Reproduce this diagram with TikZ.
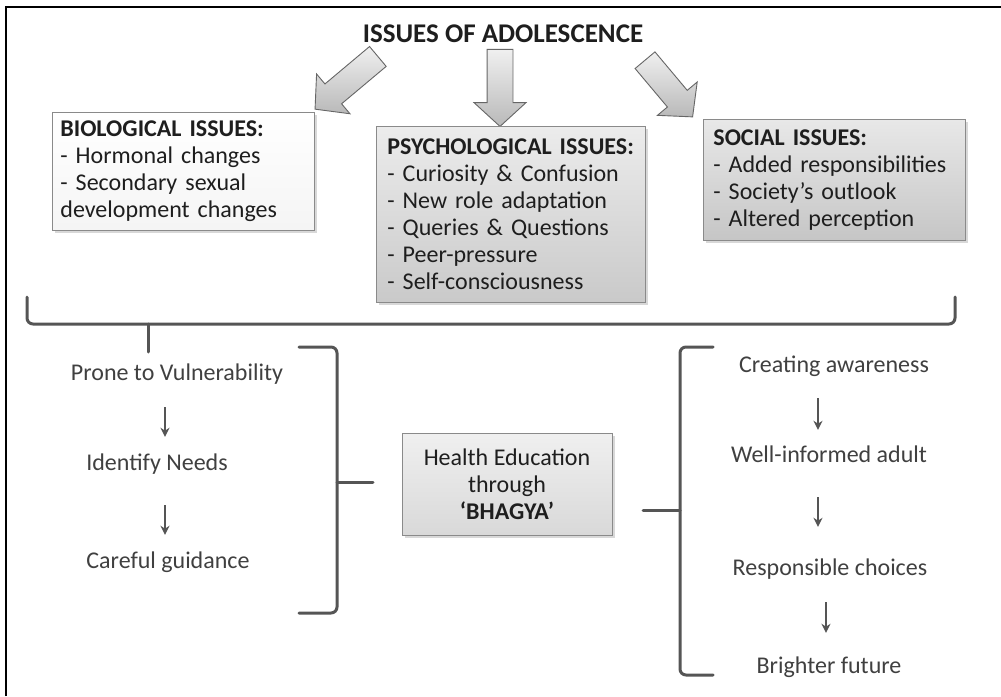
\documentclass[tikz,border=0pt]{standalone}
\usepackage{fontspec}
\setmainfont{Carlito}
\usetikzlibrary{shapes.arrows,shadows,arrows.meta,calc}
\definecolor{txt}{HTML}{1E1E1E}
\definecolor{brace}{HTML}{555555}
\definecolor{edge}{HTML}{8A8A8A}
\begin{document}
\begin{tikzpicture}[x=1pt,y=-1pt,
  every node/.style={text=txt},
  body/.style={font=\fontsize{24}{27}\selectfont},
  boxbase/.style={draw=edge, line width=0.8pt, anchor=north west, align=left,
     body, drop shadow={shadow xshift=3pt, shadow yshift=-3pt, opacity=0.3, fill=gray}},
  bigarrow/.style={single arrow, draw=black!60, line width=0.9pt,
     single arrow head extend=13pt, single arrow tip angle=95, inner xsep=0pt, inner ysep=12.5pt,
     top color=gray!12, bottom color=gray!55},
  coltext/.style={body, anchor=base, inner sep=0pt, text height=18pt, text depth=6pt, text=txt!85},
  sarrow/.style={draw=brace, line width=1.8pt, -{Stealth[length=9pt,width=9pt]}},
  bracestyle/.style={draw=brace, line width=3pt, rounded corners=6pt, line cap=round}
]
\useasboundingbox (0,0) rectangle (1001,696);
\fill[white] (0,0) rectangle (1001,696);
% frame (cropped on right and bottom)
\draw[line width=1.6pt, black] (6,696) -- (6,7) -- (1001,7);

% title
\node[anchor=base, font=\fontsize{27}{31}\selectfont\bfseries] (title) at (503,42) {ISSUES OF ADOLESCENCE};

% block arrows
\node[bigarrow, minimum height=82pt, rotate=220] (aleft) at (351,79) {};
\node[bigarrow, minimum height=77pt, rotate=-90] (amid) at (500,82) {};
\node[bigarrow, minimum height=74pt, rotate=-50] (aright) at (665,84) {};

% issue boxes
\node[boxbase, minimum width=262pt, minimum height=118pt, inner xsep=8pt, text width=246pt,
      top color=white, bottom color=gray!8] (bio) at (52,112)
  {\textbf{BIOLOGICAL ISSUES:}\\- Hormonal changes\\- Secondary sexual\\development changes};
\node[boxbase, minimum width=269pt, minimum height=176pt, inner xsep=11pt, text width=247pt,
      top color=gray!15, bottom color=gray!42] (psy) at (376,126)
  {\textbf{PSYCHOLOGICAL ISSUES:}\\- Curiosity \& Confusion\\- New role adaptation\\- Queries \& Questions\\- Peer-pressure\\- Self-consciousness};
\node[boxbase, minimum width=262pt, minimum height=121pt, inner xsep=10pt, text width=242pt,
      top color=gray!18, bottom color=gray!45] (soc) at (703,119)
  {\textbf{SOCIAL ISSUES:}\\- Added responsibilities\\- Society's outlook\\- Altered perception};

% big brace under the boxes
\draw[bracestyle] (27,297) -- (27,324) -- (955,324) -- (955,297);
\draw[bracestyle, rounded corners=0pt] (148,324) -- (148,352);

% left column
\node[coltext] (pv) at (177,380) {Prone to Vulnerability};
\node[coltext] (idn) at (157,470) {Identify Needs};
\node[coltext] (cg) at (168,568) {Careful guidance};
\coordinate (lx) at (165,0);
\draw[sarrow, shorten <=21pt, shorten >=15pt] (pv.south -| lx) -- (idn.north -| lx);
\draw[sarrow, shorten <=29pt, shorten >=15pt] (idn.south -| lx) -- (cg.north -| lx);

% closing brace
\draw[bracestyle] (299,347) -- (337,347) -- (337,613) -- (299,613);
\draw[bracestyle, rounded corners=0pt] (337,482) -- (373,482);

% central box
\node[draw=edge, line width=0.8pt, minimum width=210pt, minimum height=102pt, align=center,
      body, top color=gray!12, bottom color=gray!30,
      drop shadow={shadow xshift=3pt, shadow yshift=-3pt, opacity=0.3, fill=gray}]
  (he) at (507,484) {Health Education\\through\\\textbf{`BHAGYA'}};

% opening brace
\draw[bracestyle] (713,347) -- (680,347) -- (680,675) -- (713,675);
\draw[bracestyle, rounded corners=0pt] (680,510) -- (643,510);

% right column
\node[coltext] (cr) at (834,372) {Creating awareness};
\node[coltext] (wi) at (829,462) {Well-informed adult};
\node[coltext] (rc) at (830,575) {Responsible choices};
\node[coltext] (bf) at (829,673) {Brighter future};
\coordinate (rx1) at (818,0);
\coordinate (rx2) at (826,0);
\draw[sarrow, shorten <=20pt, shorten >=14pt] (cr.south -| rx1) -- (wi.north -| rx1);
\draw[sarrow, shorten <=29pt, shorten >=30pt] (wi.south -| rx1) -- (rc.north -| rx1);
\draw[sarrow, shorten <=21pt, shorten >=22pt] (rc.south -| rx2) -- (bf.north -| rx2);
\end{tikzpicture}
\end{document}
